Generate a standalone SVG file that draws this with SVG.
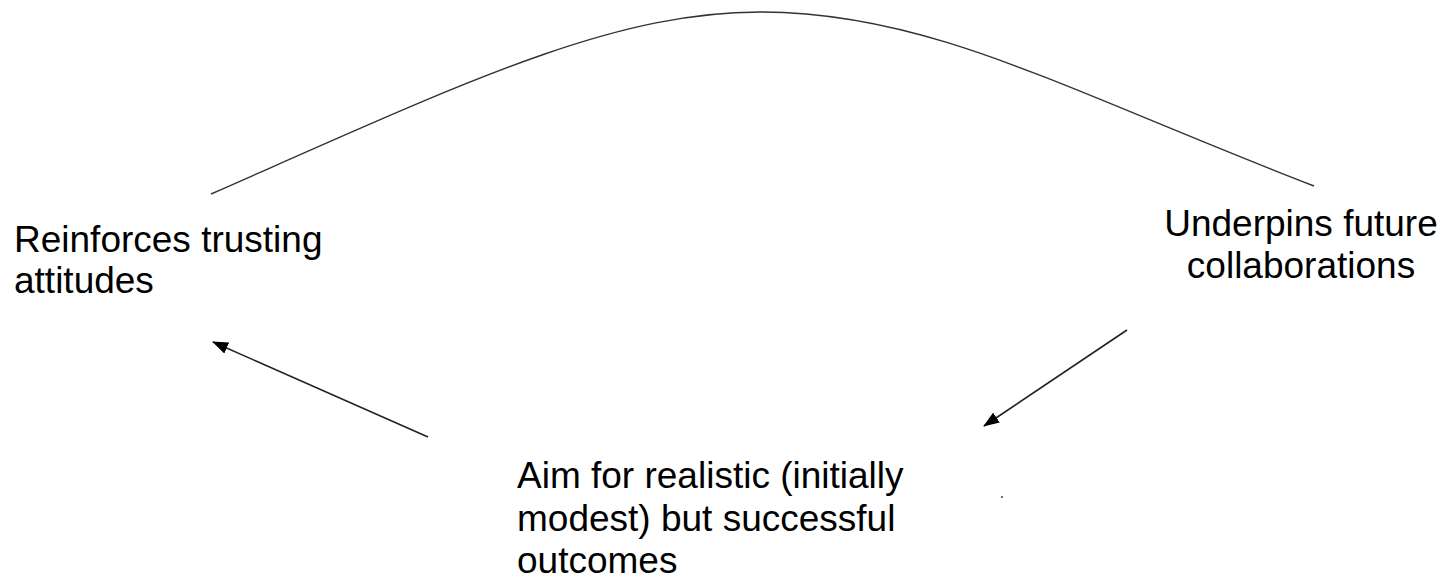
<svg xmlns="http://www.w3.org/2000/svg" width="1447" height="582" viewBox="0 0 1447 582">
  <style>
    .lbl { font-family: "Liberation Sans", Arial, sans-serif; font-size: 37px; fill: #000; }
    .conn { fill: none; stroke: #222; stroke-width: 1.6; }
    .arc { fill: none; stroke: #333; stroke-width: 1.4; }
  </style>
  <defs>
    <marker id="arrow" viewBox="0 0 16 12" refX="15" refY="6" markerWidth="16" markerHeight="12" markerUnits="userSpaceOnUse" orient="auto">
      <path d="M0,0 L16,6 L0,12 Z" fill="#000"/>
    </marker>
  </defs>
  <rect width="1447" height="582" fill="#fff"/>
  <g id="connectors">
    <path class="arc" d="M211,194 C461,84 610,12 760,12 C930,12 1064,89.5 1314,186"/>
    <line class="conn" x1="428" y1="437" x2="213" y2="342" marker-end="url(#arrow)"/>
    <line class="conn" x1="1127" y1="330" x2="984" y2="426" marker-end="url(#arrow)"/>
  </g>
  <g id="node-reinforces">
    <text class="lbl" x="14" y="252">Reinforces trusting</text>
    <text class="lbl" x="14" y="293">attitudes</text>
  </g>
  <g id="node-underpins">
    <text class="lbl" x="1301" y="236" text-anchor="middle">Underpins future</text>
    <text class="lbl" x="1301" y="278" text-anchor="middle">collaborations</text>
  </g>
  <g id="node-aim">
    <text class="lbl" x="517" y="488">Aim for realistic (initially</text>
    <text class="lbl" x="517" y="531">modest) but successful</text>
    <text class="lbl" x="517" y="573">outcomes</text>
  </g>
  <circle cx="1002" cy="497" r="1" fill="#444"/>
</svg>
